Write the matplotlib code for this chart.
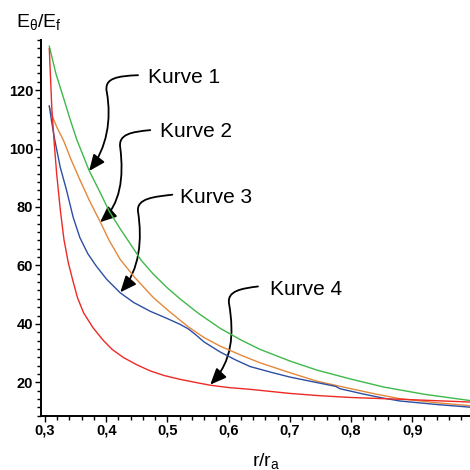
import matplotlib
matplotlib.use("Agg")
import matplotlib.pyplot as plt
from matplotlib.path import Path
from matplotlib.patches import FancyArrowPatch
from matplotlib.ticker import FixedLocator, MultipleLocator

plt.rcParams['font.family'] = ['Liberation Sans', 'DejaVu Sans']
plt.rcParams['mathtext.default'] = 'regular'

# ---- data ----
x_k1 = [0.307, 0.318, 0.330, 0.341, 0.352, 0.372, 0.390, 0.405, 0.423, 0.439, 0.457, 0.477,
        0.500, 0.521, 0.550, 0.586, 0.620, 0.651, 0.700, 0.744, 0.798, 0.853, 0.920, 1.0]
y_k1 = [135.0, 125.5, 117.5, 110.0, 103.0, 92.5, 85.0, 78.5, 72.5, 67.5, 61.8, 57.0,
        52.3, 48.5, 43.7, 38.5, 34.5, 31.3, 27.3, 24.2, 21.2, 18.4, 15.9, 13.6]

x_k2 = [0.307, 0.311, 0.320, 0.330, 0.343, 0.357, 0.373, 0.390, 0.405, 0.423, 0.447, 0.477,
        0.500, 0.521, 0.534, 0.560, 0.586, 0.620, 0.651, 0.700, 0.744, 0.800, 0.840, 0.880, 0.940, 1.0]
y_k2 = [114.3, 111.5, 107.0, 102.9, 96.0, 89.3, 82.0, 75.0, 68.5, 62.0, 55.8, 49.0,
        44.8, 41.2, 39.0, 35.3, 32.4, 29.3, 26.7, 23.3, 20.4, 17.8, 16.0, 14.4, 13.0, 11.9]

x_k3 = [0.307, 0.311, 0.316, 0.325, 0.335, 0.346, 0.357, 0.370, 0.384, 0.401, 0.423, 0.445,
        0.472, 0.500, 0.521, 0.534, 0.545, 0.560, 0.586, 0.610, 0.635, 0.670, 0.700, 0.735,
        0.766, 0.775, 0.782, 0.820, 0.850, 0.880, 0.940, 1.0]
y_k3 = [114.6, 109.0, 102.9, 93.5, 85.9, 76.5, 69.5, 64.0, 59.7, 55.2, 50.6, 47.3,
        44.3, 41.8, 39.8, 38.3, 36.5, 33.8, 30.4, 27.8, 25.4, 23.4, 21.8, 20.3,
        19.0, 18.6, 17.8, 16.0, 14.7, 13.6, 12.4, 11.4]

x_k4 = [0.307, 0.311, 0.315, 0.319, 0.325, 0.331, 0.338, 0.345, 0.353, 0.363, 0.378, 0.395,
        0.410, 0.428, 0.450, 0.472, 0.495, 0.521, 0.545, 0.570, 0.600, 0.635, 0.700, 0.750,
        0.800, 0.880, 0.940, 1.0]
y_k4 = [134.2, 114.3, 102.0, 91.5, 79.0, 68.8, 61.0, 55.2, 49.0, 43.8, 38.8, 34.4,
        31.2, 28.5, 26.0, 23.9, 22.3, 21.0, 20.0, 19.0, 18.2, 17.6, 16.2, 15.4,
        14.8, 14.2, 13.7, 13.2]

curve_labels = ["Kurve 1", "Kurve 2", "Kurve 3", "Kurve 4"]
x_ticks = [0.3, 0.4, 0.5, 0.6, 0.7, 0.8, 0.9, 1.0]
x_ticklabels = ["0,3", "0,4", "0,5", "0,6", "0,7", "0,8", "0,9", "1"]
y_ticks = [20, 40, 60, 80, 100, 120]
y_ticklabels = ["20", "40", "60", "80", "100", "120"]

colors = ['#3fb84a', '#e3883c', '#2c4fa3', '#ec2a26']

fig = plt.figure(figsize=(4.7, 4.7), dpi=100)
ax = fig.add_axes([41/470, 54.3/470, (473.4-41)/470, (415.7-40)/470])

for xs, ys, c in zip([x_k1, x_k2, x_k3, x_k4], [y_k1, y_k2, y_k3, y_k4], colors):
    ax.plot(xs, ys, color=c, lw=1.0)

ax.set_xlim(0.29346, 1.0)
ax.set_ylim(20 - 4*20/7, 120 + 6*20/7)

ax.spines['top'].set_visible(False)
ax.spines['right'].set_visible(False)
for s in ['left', 'bottom']:
    ax.spines[s].set_linewidth(1.4)

ax.xaxis.set_major_locator(FixedLocator(x_ticks))
ax.set_xticklabels(x_ticklabels, fontsize=10.5, fontweight='bold')
ax.xaxis.set_minor_locator(MultipleLocator(0.02))
ax.yaxis.set_major_locator(FixedLocator(y_ticks))
ax.set_yticklabels(y_ticklabels, fontsize=10.5, fontweight='bold')
ax.yaxis.set_minor_locator(MultipleLocator(20/7))
ax.tick_params(which='both', direction='out', width=1.0)
ax.tick_params(axis='x', which='major', length=4, pad=1.5)
ax.tick_params(axis='x', which='minor', length=3)
ax.tick_params(axis='y', which='major', length=4, pad=1.5)
ax.tick_params(axis='y', which='minor', length=3)

fig.text(16/470, (470-27)/470, r'E$_{θ}$/E$_{f}$', fontsize=14, ha='left', va='baseline')
fig.text(252/470, (470-466)/470, r'r/r$_{a}$', fontsize=14, ha='left', va='baseline')

# annotation texts (data coordinates) and S-shaped arrows
text_pos = [(0.468, 122.4), (0.488, 104.0), (0.521, 81.4), (0.668, 50.0)]
arrow_paths = [
    [(0.452, 125.1), (0.419, 124.8), (0.396, 124.2), (0.401, 119.3),
     (0.409, 109.8), (0.401, 100.2), (0.372, 92.3)],
    [(0.472, 106.3), (0.442, 105.7), (0.419, 105.0), (0.423, 100.2),
     (0.429, 90.0), (0.423, 80.8), (0.390, 74.8)],
    [(0.508, 84.2), (0.480, 83.5), (0.449, 83.1), (0.452, 78.4),
     (0.459, 68.8), (0.455, 58.6), (0.423, 50.8)],
    [(0.648, 52.8), (0.622, 52.1), (0.596, 51.4), (0.601, 46.6),
     (0.609, 36.4), (0.606, 27.2), (0.570, 19.2)],
]
codes = [Path.MOVETO] + [Path.CURVE4] * 6
for lab, (tx, ty), verts in zip(curve_labels, text_pos, arrow_paths):
    ax.text(tx, ty, lab, fontsize=15, ha='left', va='baseline')
    arr = FancyArrowPatch(path=Path(verts, codes),
                          arrowstyle='-|>,head_length=0.7,head_width=0.3',
                          mutation_scale=14, color='black', lw=1.3)
    ax.add_patch(arr)

fig.savefig('out.png', dpi=100)
